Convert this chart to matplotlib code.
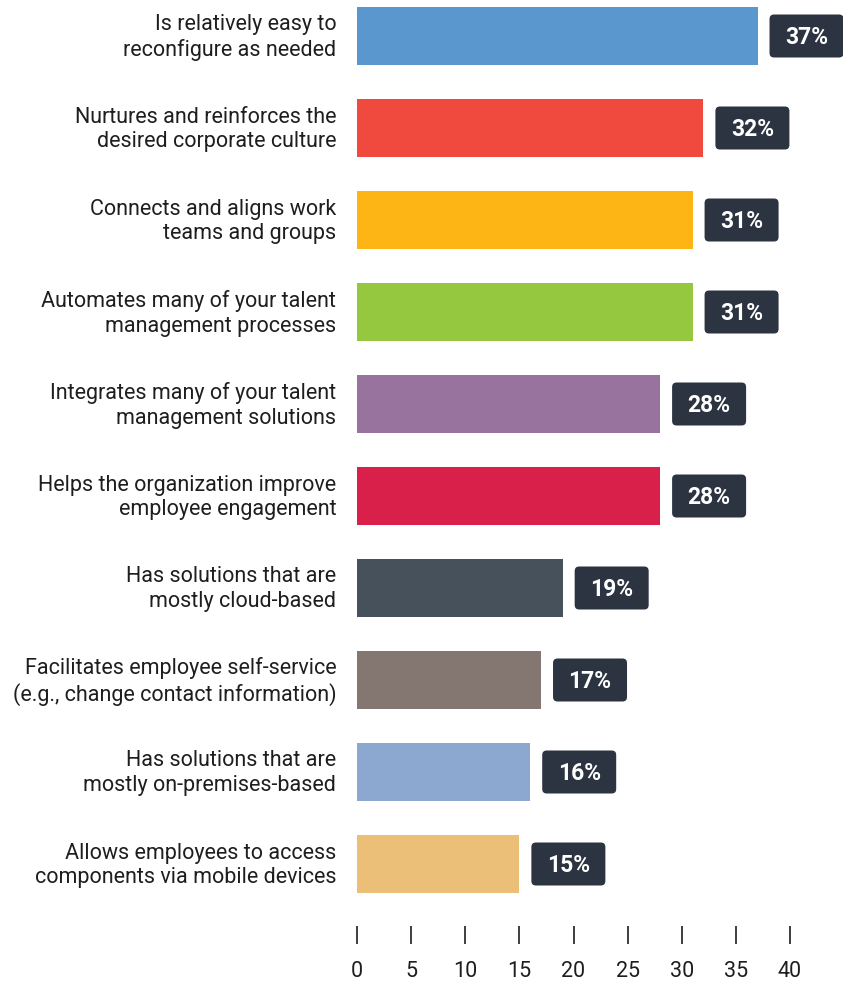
import matplotlib.pyplot as plt
from matplotlib.patches import FancyBboxPatch
from matplotlib.transforms import ScaledTranslation

plt.rcParams['font.family'] = ['Roboto', 'DejaVu Sans']

labels = [
    "Is relatively easy to\nreconfigure as needed",
    "Nurtures and reinforces the\ndesired corporate culture",
    "Connects and aligns work\nteams and groups",
    "Automates many of your talent\nmanagement processes",
    "Integrates many of your talent\nmanagement solutions",
    "Helps the organization improve\nemployee engagement",
    "Has solutions that are\nmostly cloud-based",
    "Facilitates employee self-service\n(e.g., change contact information)",
    "Has solutions that are\nmostly on-premises-based",
    "Allows employees to access\ncomponents via mobile devices",
]
values = [37, 32, 31, 31, 28, 28, 19, 17, 16, 15]
colors = ["#5b97cf", "#f04a3e", "#fdb515", "#95c83e", "#97739e",
          "#d9204a", "#47515c", "#847670", "#8ca8d0", "#ebbf78"]
ticks = [0, 5, 10, 15, 20, 25, 30, 35, 40]

W, H, DPI = 843, 981, 100
fig = plt.figure(figsize=(W / DPI, H / DPI), dpi=DPI)
# axes box in pixels: x 357..790, y 0..910
ax = fig.add_axes([357 / W, 1 - 910 / H, 433 / W, 910 / H])

ypos = list(range(len(values)))
ax.barh(ypos, values, height=58 / 92, color=colors)
ax.set_xlim(0, 40)
ax.set_ylim(9.5, -36 / 92)

# detach the x ticks from the bars
ax.spines["bottom"].set_position(("outward", 11.5))
for s in ax.spines.values():
    s.set_visible(False)

ax.set_yticks(ypos)
ax.set_yticklabels(labels, linespacing=1.22)
ax.tick_params(axis="y", length=0, pad=15, labelsize=15.5, labelcolor="#1e1e1e")
nudge = ScaledTranslation(0, 3 / DPI, fig.dpi_scale_trans)
for lab in ax.get_yticklabels():
    lab.set_transform(lab.get_transform() + nudge)

ax.set_xticks(ticks)
ax.set_xticklabels([str(t) for t in ticks])
ax.tick_params(axis="x", length=13, width=1.2, color="#1e1e1e", pad=12,
               labelsize=15.5, labelcolor="#1e1e1e")

# value badges: dark rounded boxes just past each bar end
box_w, box_h, gap = 74 / DPI, 43 / DPI, 12 / DPI
for i, v in enumerate(values):
    tr = fig.dpi_scale_trans + ScaledTranslation(v, i, ax.transData)
    box = FancyBboxPatch((gap, -box_h / 2), box_w, box_h,
                         boxstyle="round,pad=0,rounding_size=0.045",
                         transform=tr, facecolor="#2b3440", edgecolor="none",
                         clip_on=False)
    ax.add_patch(box)
    ax.text(gap + box_w / 2, -0.01, f"{v}%", transform=tr, ha="center",
            va="center", fontsize=16.5, fontweight="bold", color="white")

fig.savefig("out.png", dpi=DPI)
